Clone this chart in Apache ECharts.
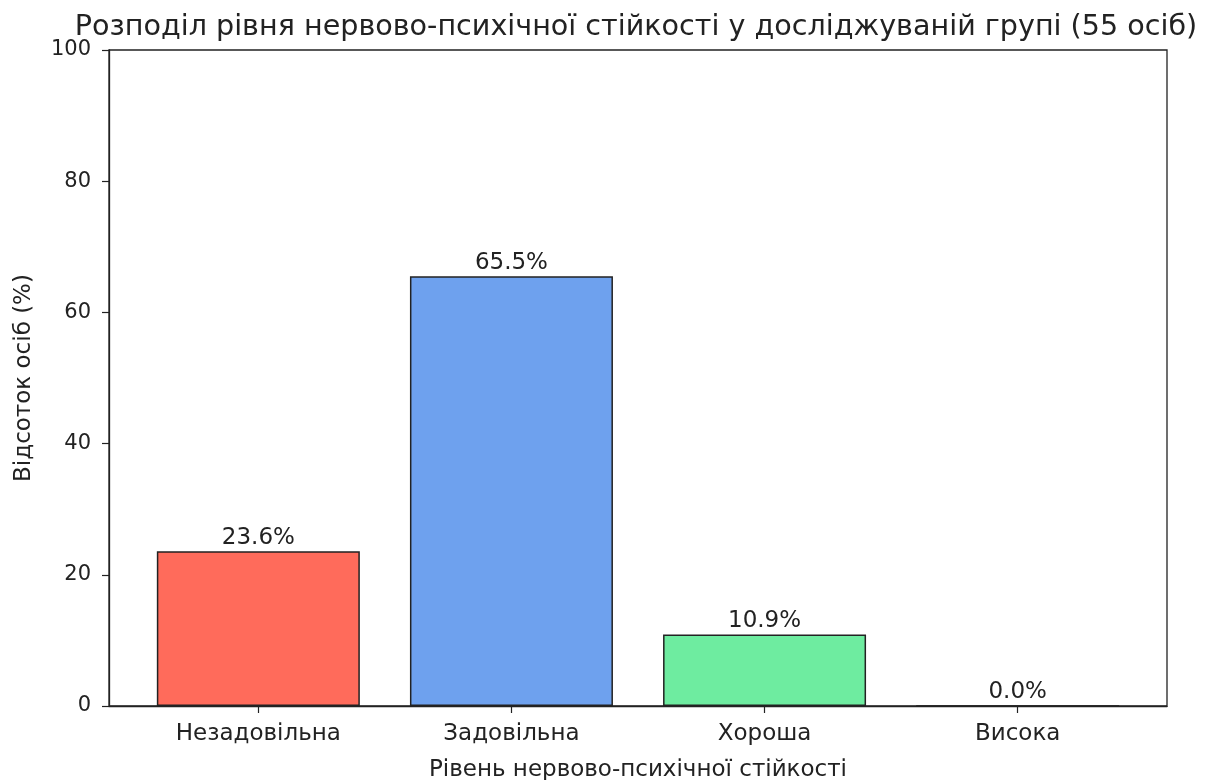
<!DOCTYPE html>
<html><head><meta charset="utf-8">
<script src="https://cdn.jsdelivr.net/npm/echarts@6/dist/echarts.min.js"></script>
<style>html,body{margin:0;padding:0;background:#fff}#c{width:1209px;height:780px}</style>
</head><body><div id="c"></div>
<script>
const categories = ['Незадовільна', 'Задовільна', 'Хороша', 'Висока'];
const values = [23.6, 65.5, 10.9, 0.0];
const colors = ['#ff6b5b', '#6ea1ee', '#6eeca0', '#6ea1ee'];
const yTicks = [0, 20, 40, 60, 80, 100];
const titleText = 'Розподіл рівня нервово-психічної стійкості у досліджуваній групі (55 осіб)';
const xName = 'Рівень нервово-психічної стійкості';
const yName = 'Відсоток осіб (%)';

const font = 'DejaVu Sans';
const chart = echarts.init(document.getElementById('c'), null, {renderer: 'canvas'});
const idx = categories.map((_, i) => i);
chart.setOption({
  animation: false,
  textStyle: {fontFamily: font},
  title: {text: titleText, left: 631, textAlign: 'center', top: 8,
    textStyle: {fontFamily: font, fontSize: 28.6, fontWeight: 'normal', color: '#222'}},
  grid: {left: 109, right: 42, top: 50, bottom: 74, outerBoundsMode: 'none', containLabel: false,
    show: true, borderColor: '#222', borderWidth: 1.3, backgroundColor: 'transparent'},
  xAxis: {
    type: 'value', min: -0.59, max: 3.59,
    name: xName, nameLocation: 'middle', nameGap: 53,
    nameTextStyle: {fontFamily: font, fontSize: 23, color: '#222'},
    axisLine: {show: true, onZero: false, lineStyle: {color: '#222', width: 1.3}},
    axisTick: {show: true, customValues: idx, length: 7, lineStyle: {color: '#222', width: 1.2}},
    axisLabel: {customValues: idx, formatter: v => categories[Math.round(v)] || '', fontFamily: font, fontSize: 23, color: '#222', margin: 17},
    splitLine: {show: false}
  },
  yAxis: {
    type: 'value', min: 0, max: 100, interval: 20,
    name: yName, nameLocation: 'middle', nameGap: 73, nameRotate: 90,
    nameTextStyle: {fontFamily: font, fontSize: 23, color: '#222'},
    axisLine: {show: true, onZero: false, lineStyle: {color: '#222', width: 1.3}},
    axisTick: {show: true, length: 7, lineStyle: {color: '#222', width: 1.2}},
    axisLabel: {fontFamily: font, fontSize: 21, color: '#222', margin: 18},
    splitLine: {show: false}
  },
  series: [{
    type: 'bar',
    barWidth: 203,
    data: values.map((v, i) => ({value: [i, v], itemStyle: {color: colors[i]}})),
    itemStyle: {borderColor: '#222', borderWidth: 1.5},
    label: {show: true, position: 'top', distance: 2, formatter: p => p.value[1].toFixed(1) + '%',
      fontFamily: font, fontSize: 23, color: '#222'}
  }]
});
</script></body></html>
